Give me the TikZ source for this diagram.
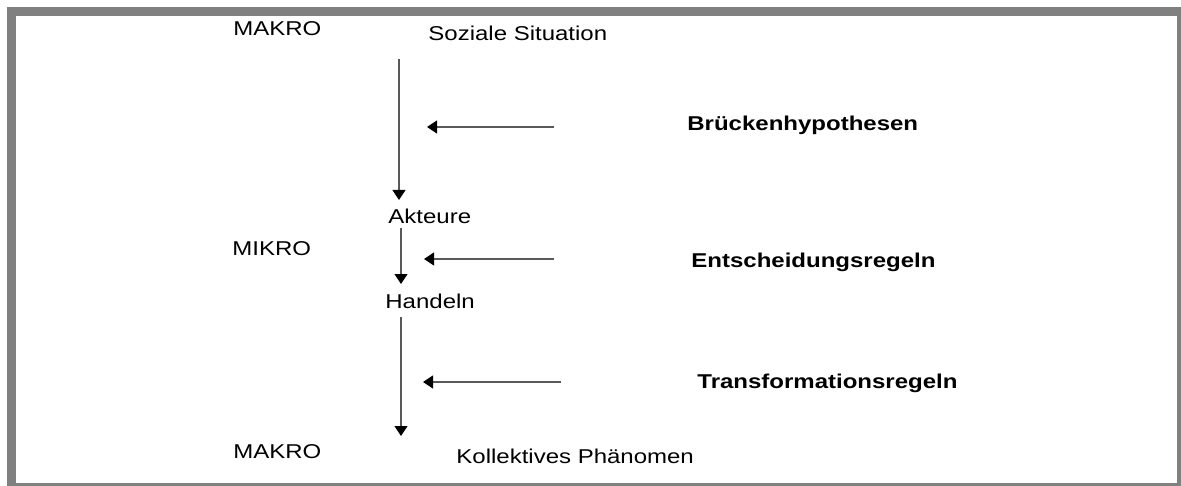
\documentclass[tikz,border=0pt]{standalone}
\usepackage{fontspec}
\setmainfont{Liberation Sans}[FakeStretch=1.2]
\usetikzlibrary{arrows.meta}
\tikzstyle{ebene} = [anchor=base west,
inner sep=0pt,
font=\fontsize{10}{12}\selectfont]
\tikzstyle{zustand} = [anchor=base west,
inner sep=0pt,
font=\fontsize{10}{12}\selectfont]
\tikzstyle{regel} = [anchor=base west,
inner sep=0pt,
font=\fontsize{10}{12}\selectfont\bfseries]
\tikzstyle{pfeil} = [draw=black!65, line width=0.6pt,
-{Triangle[width=6.5pt,length=5pt,color=black]}]

\begin{document}
\begin{tikzpicture}[x=0.5pt, y=-0.5pt]
			\useasboundingbox (0,0) rectangle (1181,486);
			% Rahmen
			\fill[gray] (7,7) rectangle (1181,486);
			\fill[white] (16,16) rectangle (1177,483);

			\node (makrooben) [ebene] at (233,36) {MAKRO};
			\node (mikro) [ebene] at (232,255) {MIKRO};
			\node (makrounten) [ebene] at (233,458) {MAKRO};

			\node (soz) [zustand] at (428,41) {Soziale Situation};
			\node (akt) [zustand] at (388,223) {Akteure};
			\node (hand) [zustand] at (385,308) {Handeln};
			\node (koll) [zustand] at (456,463) {Kollektives Phänomen};

			\node (bruecke) [regel] at (687,131) {Brückenhypothesen};
			\node (entsch) [regel] at (691,267) {Entscheidungsregeln};
			\node (trans) [regel] at (697,388) {Transformationsregeln};

			% Enden der Pfeile
			\coordinate (v1a) at (399,59);
			\coordinate (v1b) at (399,200);
			\coordinate (v2a) at (401,228);
			\coordinate (v2b) at (401,284);
			\coordinate (v3a) at (401,317);
			\coordinate (v3b) at (401,436);
			\coordinate (h1a) at (554,127);
			\coordinate (h1b) at (427,127);
			\coordinate (h2a) at (554,259);
			\coordinate (h2b) at (424,259);
			\coordinate (h3a) at (561,382);
			\coordinate (h3b) at (423,382);

			\draw[pfeil] (v1a) -- (v1b);
			\draw[pfeil] (v2a) -- (v2b);
			\draw[pfeil] (v3a) -- (v3b);
			\draw[pfeil] (h1a) -- (h1b);
			\draw[pfeil] (h2a) -- (h2b);
			\draw[pfeil] (h3a) -- (h3b);
		\end{tikzpicture}
\end{document}
